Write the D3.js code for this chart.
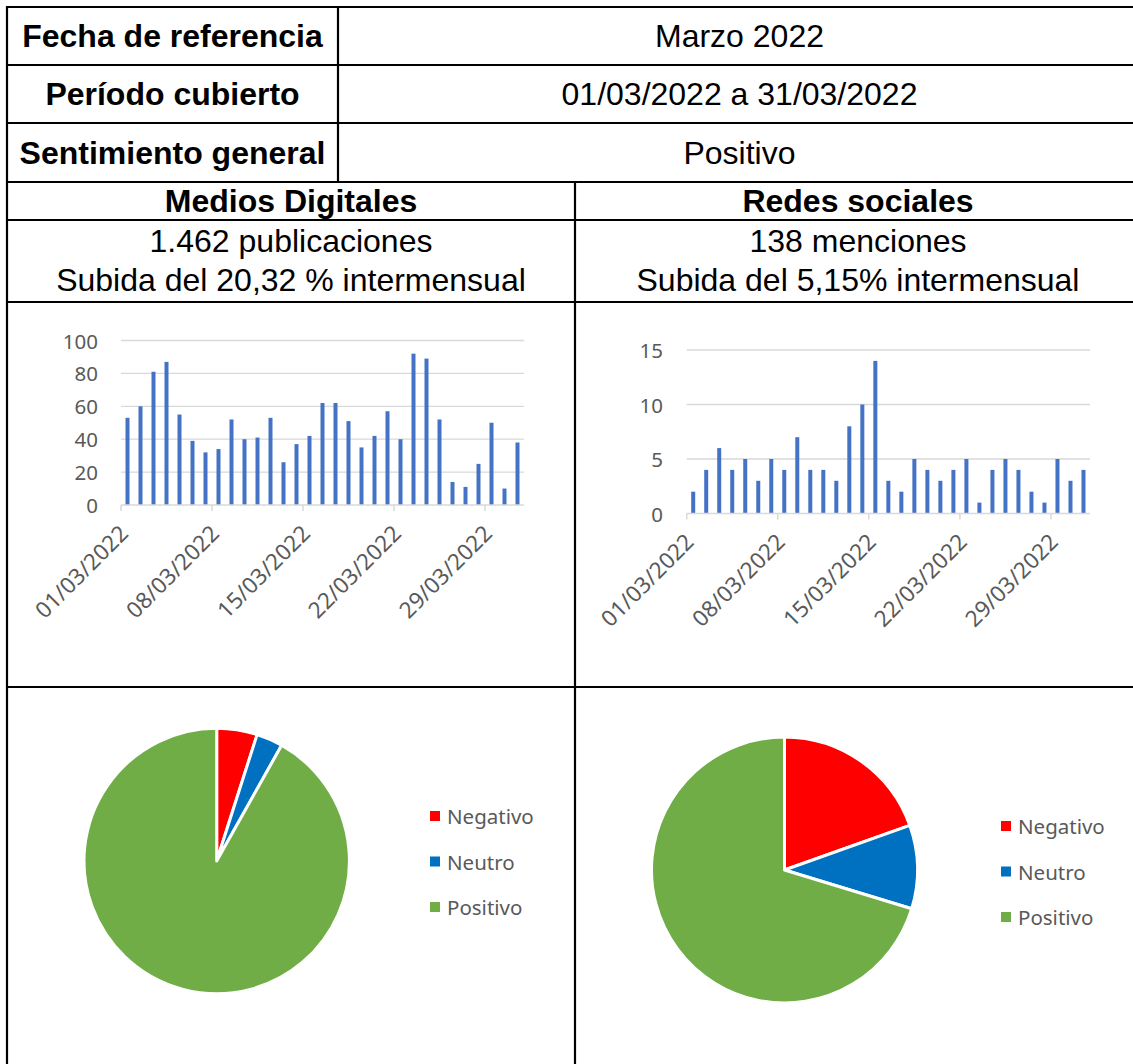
<!DOCTYPE html>
<html>
<head>
<meta charset="utf-8">
<script src="https://cdn.jsdelivr.net/npm/d3@7"></script>
<style>
  html, body { margin: 0; padding: 0; background: #fff; }
  svg { display: block; }
</style>
</head>
<body>
<svg id="chart" width="1133" height="1064"></svg>
<script>
// ---------- DATA ----------
const days = Array.from({length: 31}, (_, i) => String(i + 1).padStart(2, "0") + "/03/2022");
const digitalValues = [53,60,81,87,55,39,32,34,52,40,41,53,26,37,42,62,62,51,35,42,57,40,92,89,52,14,11,25,50,10,38];
const socialValues  = [2,4,6,4,5,3,5,4,7,4,4,3,8,10,14,3,2,5,4,3,4,5,1,4,5,4,2,1,5,3,4];
const dateTickLabels = ["01/03/2022","08/03/2022","15/03/2022","22/03/2022","29/03/2022"];
const digitalYTicks = [0,20,40,60,80,100];
const socialYTicks = [0,5,10,15];
const sentimentLabels = ["Negativo","Neutro","Positivo"];
const sentimentColors = ["#ff0000","#0070c0","#70ad47"];
const digitalSentiment = [72,47,1343];
const socialSentiment = [27,14,97];

const infoRows = [
  ["Fecha de referencia","Marzo 2022"],
  ["Período cubierto","01/03/2022 a 31/03/2022"],
  ["Sentimiento general","Positivo"]
];
const sectionTitles = ["Medios Digitales","Redes sociales"];
const sectionLine1 = ["1.462 publicaciones","138 menciones"];
const sectionLine2 = ["Subida del 20,32 % intermensual","Subida del 5,15% intermensual"];

// ---------- DRAW ----------
const svg = d3.select("#chart");
const tableFont = "'Liberation Sans', Arial, sans-serif";
const chartFont = "'Noto Sans', sans-serif";
const L = 7, R = 1141, colA = 338, colB = 575;
const rowY = [7, 65, 123, 182, 220, 302, 687, 1070];

// table text
infoRows.forEach((r, i) => {
  const cy = (rowY[i] + rowY[i+1]) / 2;
  svg.append("text").attr("x", (L + colA) / 2).attr("y", cy)
    .attr("text-anchor", "middle").attr("dominant-baseline", "central")
    .style("font-family", tableFont).style("font-size", "32px").style("font-weight", "bold")
    .text(r[0]);
  svg.append("text").attr("x", (colA + R) / 2).attr("y", cy)
    .attr("text-anchor", "middle").attr("dominant-baseline", "central")
    .style("font-family", tableFont).style("font-size", "32px")
    .text(r[1]);
});
const halfCx = [(L + colB) / 2, (colB + R) / 2];
[0,1].forEach(k => {
  svg.append("text").attr("x", halfCx[k]).attr("y", (rowY[3] + rowY[4]) / 2)
    .attr("text-anchor", "middle").attr("dominant-baseline", "central")
    .style("font-family", tableFont).style("font-size", "32px").style("font-weight", "bold")
    .text(sectionTitles[k]);
  svg.append("text").attr("x", halfCx[k]).attr("y", 241)
    .attr("text-anchor", "middle").attr("dominant-baseline", "central")
    .style("font-family", tableFont).style("font-size", "32px")
    .text(sectionLine1[k]);
  svg.append("text").attr("x", halfCx[k]).attr("y", 280)
    .attr("text-anchor", "middle").attr("dominant-baseline", "central")
    .style("font-family", tableFont).style("font-size", "32px")
    .text(sectionLine2[k]);
});

// bar charts
function barChart(values, yTicks, x0, x1, yBase, yTop, labelRight) {
  const g = svg.append("g");
  const x = d3.scaleBand().domain(days).range([x0, x1]).padding(0);
  const y = d3.scaleLinear().domain([0, d3.max(yTicks)]).range([yBase, yTop]);
  // gridlines
  g.selectAll(".grid").data(yTicks.filter(t => t > 0)).enter().append("line")
    .attr("x1", x0).attr("x2", x1).attr("y1", d => y(d)).attr("y2", d => y(d))
    .attr("stroke", "#d9d9d9").attr("stroke-width", 1.3);
  // y labels
  g.selectAll(".yl").data(yTicks).enter().append("text")
    .attr("x", labelRight).attr("y", d => y(d))
    .attr("text-anchor", "end").attr("dominant-baseline", "central")
    .style("font-family", chartFont).style("font-size", "20.5px").attr("fill", "#595959")
    .text(d => d);
  // bars
  const bw = 4;
  g.selectAll(".bar").data(values).enter().append("rect")
    .attr("x", (d, i) => x(days[i]) + x.bandwidth() / 2 - bw / 2)
    .attr("width", bw)
    .attr("y", d => y(d)).attr("height", d => yBase - y(d))
    .attr("fill", "#4472c4");
  // axis line
  g.append("line").attr("x1", x0).attr("x2", x1).attr("y1", yBase).attr("y2", yBase)
    .attr("stroke", "#d9d9d9").attr("stroke-width", 1.5);
  // ticks + labels
  dateTickLabels.forEach(lbl => {
    const tx = x(lbl);
    g.append("line").attr("x1", tx).attr("x2", tx).attr("y1", yBase).attr("y2", yBase + 6)
      .attr("stroke", "#d9d9d9").attr("stroke-width", 1.5);
    const cx = tx + x.bandwidth() / 2 + 2;
    g.append("text")
      .attr("transform", `translate(${cx},${yBase + 30}) rotate(-45)`)
      .attr("text-anchor", "end")
      .style("font-family", chartFont).style("font-size", "22.5px").attr("fill", "#595959")
      .text(lbl);
  });
}
barChart(digitalValues, digitalYTicks, 121, 524, 505, 340.5, 98);
barChart(socialValues, socialYTicks, 686.7, 1090, 513.5, 350, 663);

// pies
function pieChart(values, cx, cy, r, legX, legY0) {
  const g = svg.append("g").attr("transform", `translate(${cx},${cy})`);
  const pie = d3.pie().sort(null).value(d => d);
  const arc = d3.arc().innerRadius(0).outerRadius(r);
  g.selectAll("path").data(pie(values)).enter().append("path")
    .attr("d", arc).attr("fill", (d, i) => sentimentColors[i])
    .attr("stroke", "#fff").attr("stroke-width", 3).attr("stroke-linejoin", "round");
  const lg = svg.append("g");
  sentimentLabels.forEach((lbl, i) => {
    const yy = legY0 + i * 45.5;
    lg.append("rect").attr("x", legX).attr("y", yy - 5).attr("width", 10).attr("height", 10)
      .attr("fill", sentimentColors[i]);
    lg.append("text").attr("x", legX + 17).attr("y", yy)
      .attr("dominant-baseline", "central")
      .style("font-family", chartFont).style("font-size", "20.5px").attr("fill", "#595959")
      .text(lbl);
  });
}
pieChart(digitalSentiment, 216.7, 861, 132.7, 430, 816);
pieChart(socialSentiment, 784.5, 870, 133, 1001, 826);

// table lines (on top)
const lines = [
  [L, rowY[0], R, rowY[0]],
  [L, rowY[1], R, rowY[1]],
  [L, rowY[2], R, rowY[2]],
  [L, rowY[3], R, rowY[3]],
  [L, rowY[4], R, rowY[4]],
  [L, rowY[5], R, rowY[5]],
  [L, rowY[6], R, rowY[6]],
  [L, rowY[0] - 1, L, 1070],
  [colA, rowY[0], colA, rowY[3]],
  [colB, rowY[3], colB, 1070]
];
svg.append("g").selectAll("line").data(lines).enter().append("line")
  .attr("x1", d => d[0]).attr("y1", d => d[1]).attr("x2", d => d[2]).attr("y2", d => d[3])
  .attr("stroke", "#000").attr("stroke-width", 2.2);
</script>
</body>
</html>
